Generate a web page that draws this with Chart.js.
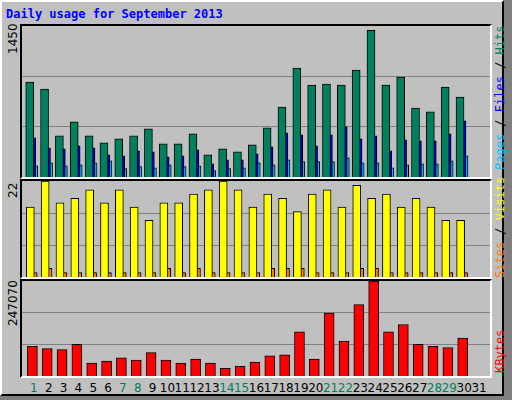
<!DOCTYPE html>
<html>
<head>
<meta charset="utf-8">
<script src="https://cdn.jsdelivr.net/npm/chart.js@4"></script>
<style>
  body { margin: 0; width: 512px; height: 400px; background: #c0c0c0; position: relative; overflow: hidden; font-family: "DejaVu Sans Mono", monospace; }
  #frame { position: absolute; left: 0; top: 0; width: 504px; height: 396px; border-left: 2px solid #fff; border-top: 2px solid #fff; border-right: 2px solid #000; border-bottom: 2px solid #000; box-sizing: border-box; }
  #rstrip { position: absolute; left: 504px; top: 0; width: 8px; height: 400px; background: #808080; }
  #bstrip { position: absolute; left: 0; top: 396px; width: 512px; height: 4px; background: #808080; }
  #title { position: absolute; left: 6px; top: 7px; font-size: 12px; font-weight: bold; color: #0000ff; }
  .panel { position: absolute; left: 20px; width: 472px; box-sizing: border-box; border-top: 2px solid #000; border-left: 2px solid #000; border-right: 2px solid #fff; border-bottom: 2px solid #fff; }
  .panel canvas { display: block; }
  .vl { position: absolute; font-size: 12px; transform-origin: 0 0; transform: rotate(-90deg); white-space: nowrap; }
  .day { position: absolute; top: 381px; font-family: "DejaVu Sans", sans-serif; font-size: 12px; transform: translateX(-50%); }
</style>
</head>
<body>
<div id="frame"></div>
<div id="rstrip"></div>
<div id="bstrip"></div>
<div id="title">Daily usage for September 2013</div>

<div class="panel" style="top:24px;height:155px"><canvas id="c1" width="468" height="151"></canvas></div>
<div class="panel" style="top:179px;height:100px"><canvas id="c2" width="468" height="96"></canvas></div>
<div class="panel" style="top:279px;height:99px"><canvas id="c3" width="468" height="95"></canvas></div>

<div class="vl" style="left:6px;top:54px;font-family:'DejaVu Sans',sans-serif">1450</div>
<div class="vl" style="left:6px;top:198px;font-family:'DejaVu Sans',sans-serif">22</div>
<div class="vl" style="left:6px;top:326px;font-family:'DejaVu Sans',sans-serif">247070</div>

<div class="vl" style="left:493px;top:170px"><span style="color:#00c0ff">Pages</span> / <span style="color:#0000ff">Files</span> / <span style="color:#00805c">Hits</span></div>
<div class="vl" style="left:493px;top:278px"><span style="color:#ff8000">Sites</span> / <span style="color:#ffff00">Visits</span></div>
<div class="vl" style="left:493px;top:373px"><span style="color:#ff0000">KBytes</span></div>

<script>
// Daily values, September 2013
const days = Array.from({ length: 31 }, (_, i) => i + 1);
const weekend = [1, 7, 8, 14, 15, 21, 22, 28, 29];

const hits = [911, 845, 395, 529, 395, 328, 366, 395, 462, 319, 319, 414, 214, 271, 242,
  309, 472, 672, 1045, 883, 892, 883, 1026, 1409, 883, 959, 663, 625, 864, 768];
const files = [376, 280, 271, 300, 280, 214, 204, 252, 242, 194, 204, 261, 127, 166, 166,
  223, 290, 424, 405, 300, 405, 481, 366, 395, 252, 357, 347, 347, 414, 539];
const pages = [108, 137, 108, 118, 137, 156, 80, 99, 89, 118, 99, 108, 61, 80, 89,
  137, 118, 166, 147, 147, 147, 185, 137, 137, 89, 118, 127, 127, 156, 204];
const visits = [16, 22, 17, 18, 20, 17, 20, 16, 13, 17, 17, 19, 20, 22, 20,
  16, 19, 18, 15, 19, 20, 16, 21, 18, 19, 16, 18, 16, 13, 13];
const sites = [1, 2, 1, 1, 1, 1, 1, 1, 1, 2, 1, 2, 1, 1, 1,
  1, 2, 2, 2, 1, 1, 1, 2, 2, 1, 1, 1, 1, 1, 1];
const kbytes = [76900, 71500, 68800, 82400, 33500, 38900, 47100, 41600, 60600, 41600, 33500, 44300, 33500, 19900, 25300,
  36200, 52500, 55200, 114900, 44300, 163800, 90500, 185500, 247070, 114900, 133900, 82400, 76900, 74200, 98600];

const maxHits = 1450, maxVisits = 22, maxKB = 247070;

function pts(vals, off) {
  return vals.map((v, i) => ({ x: days[i] + off, y: v }));
}
function ds(vals, off, color, w) {
  return { data: pts(vals, off), backgroundColor: color, borderColor: "#000", borderWidth: 1,
    barThickness: w, borderSkipped: "bottom", grouped: false };
}
function makeChart(id, datasets, max) {
  return new Chart(document.getElementById(id), {
    type: "bar",
    data: { datasets },
    options: {
      responsive: false, animation: false,
      layout: { padding: 0 },
      plugins: { legend: { display: false }, tooltip: { enabled: false } },
      scales: {
        x: { type: "linear", min: 0.2, max: 31.74, offset: false, display: false },
        y: {
          min: 0, max: max,
          afterBuildTicks: s => { s.ticks = [{ value: max / 3 }, { value: 2 * max / 3 }]; },
          ticks: { display: false },
          border: { display: false },
          grid: { color: "#808080", lineWidth: 1, drawTicks: false }
        }
      }
    }
  });
}

makeChart("c1", [
  ds(hits, -0.28, "#00805c", 8),
  ds(files, -0.15, "#0000ff", 8),
  ds(pages, -0.01, "#00c0ff", 8)
], maxHits);
makeChart("c2", [
  ds(visits, -0.24, "#ffff00", 8),
  ds(sites, -0.01, "#ff8000", 7)
], maxVisits);
const kb = makeChart("c3", [ds(kbytes, -0.1, "#ff0000", 10)], maxKB);

// day labels placed with the chart's x scale
const xs = kb.scales.x;
days.forEach(d => {
  const el = document.createElement("div");
  el.className = "day";
  el.textContent = d;
  el.style.left = (22 + xs.getPixelForValue(d)) + "px";
  el.style.color = weekend.includes(d) ? "#00805c" : "#000";
  document.body.appendChild(el);
});
</script>
</body>
</html>
